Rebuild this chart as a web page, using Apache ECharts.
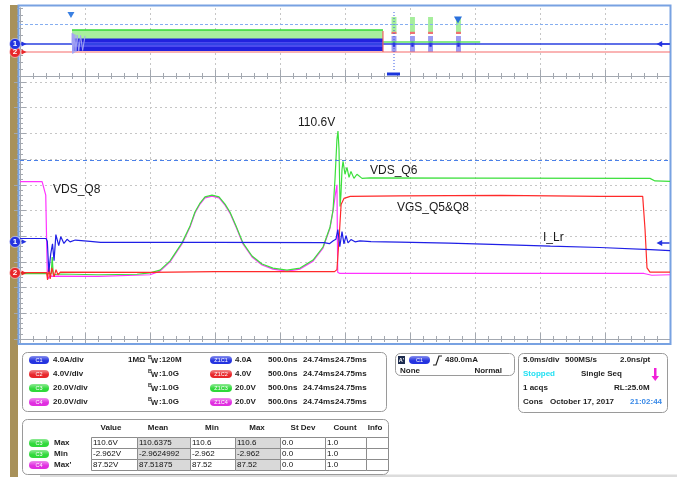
<!DOCTYPE html>
<html>
<head>
<meta charset="utf-8">
<script src="https://cdn.jsdelivr.net/npm/echarts@6/dist/echarts.min.js"></script>
<style>
  html, body { margin: 0; padding: 0; background: #fff; }
  #chart { width: 677px; height: 477px; }
</style>
</head>
<body>
<div id="chart"></div>
<script>
// zoom window: time in ns from the left edge (500 ns/div), level in divisions from the bottom
const iLr = [[0,3.91],[200,3.91],[210,3.8],[222,2.62],[236,3.3],[250,3.7],[262,3.05],[276,4.06],[298,3.63],[314,3.98],[338,3.72],[362,3.88],[385,3.78],[425,3.85],[540,3.8],[620,3.76],[1500,3.76],[2340,3.75],[2380,3.71],[2410,3.82],[2430,3.88],[2445,4.26],[2460,3.59],[2477,4.18],[2492,3.7],[2508,4.02],[2523,3.74],[2546,3.87],[2577,3.78],[2615,3.82],[2700,3.79],[2920,3.77],[3300,3.73],[3700,3.67],[4080,3.61],[4460,3.56],[4850,3.48],[5000,3.44]];
const vgsQ5Q8 = [[0,2.58],[205,2.58],[212,2.3],[222,2.85],[232,2.34],[246,2.77],[262,2.42],[277,2.7],[292,2.5],[310,2.6],[1000,2.59],[1500,2.62],[2420,2.62],[2438,2.7],[2454,3.87],[2470,5.23],[2492,5.47],[2540,5.55],[2920,5.57],[3700,5.59],[4460,5.55],[4790,5.55],[4808,4.26],[4823,2.77],[4846,2.6],[5000,2.6]];
const vdsQ6 = [[0,2.54],[205,2.54],[240,2.55],[248,3.19],[256,2.5],[300,2.53],[600,2.5],[900,2.52],[1000,2.57],[1077,2.68],[1154,3.04],[1246,3.74],[1308,4.4],[1346,4.94],[1385,5.29],[1423,5.53],[1477,5.6],[1531,5.53],[1577,5.25],[1615,4.94],[1662,4.4],[1715,3.74],[1785,3.23],[1862,2.92],[1946,2.76],[2054,2.68],[2154,2.76],[2254,3.07],[2331,3.58],[2385,4.36],[2408,5.02],[2423,6.21],[2438,7.77],[2446,8.09],[2454,7.38],[2462,5.16],[2469,5.63],[2477,6.6],[2485,6.91],[2500,6.41],[2515,6.68],[2531,6.29],[2546,6.52],[2569,6.25],[2592,6.41],[2631,6.25],[2692,6.27],[3500,6.26],[4846,6.25],[4885,6.15],[5000,6.13]];
const vdsQ8 = [[0,6.12],[170,6.12],[185,6.05],[198,5.6],[206,3.5],[210,2.5],[216,2.35],[230,2.45],[600,2.44],[1000,2.5],[1077,2.64],[1154,3.0],[1246,3.7],[1308,4.36],[1346,4.9],[1385,5.25],[1423,5.49],[1477,5.56],[1531,5.49],[1577,5.21],[1615,4.9],[1662,4.36],[1715,3.7],[1785,3.19],[1862,2.88],[1946,2.72],[2054,2.64],[2154,2.72],[2254,3.03],[2331,3.54],[2385,4.32],[2408,4.98],[2425,5.6],[2438,6.0],[2444,2.6],[2460,2.55],[4800,2.55],[4860,2.48],[5000,2.5]];
const mainCursor = 6.97;
const groundC1 = 3.78, groundC2 = 2.57;

// overview record: time in ms (5 ms/div), level in divisions
const ovBlue = [[0,4.71],[50,4.71]];
const ovRed = [[0,3.53],[50,3.53]];
const ovSwitch = [4.0, 27.92];
const ovGreenBand = [3.82, 6.76];
const ovBlueBand = [3.68, 5.51];
const ovBlueCore = [4.26, 5.0];
const ovStartRing = [[4.0,4.71],[4.02,6.3],[4.06,3.3],[4.1,6.2],[4.15,3.4],[4.22,6.1],[4.3,3.55],[4.4,6.0],[4.52,3.7],[4.66,5.95],[4.82,3.75],[5.0,5.9]];
const ovGreenTail = [[27.92,5.0],[35.4,5.0]];
const ovBursts = [28.77, 30.19, 31.58, 33.73];
const ovZoomPos = 28.77;
const ovZoomBox = [28.23, 29.23];
const ovTrigMarks = [[3.92, 8.97], [33.69, 8.24]];
const ovCursor = 7.65;

// readouts
const chanRows = [
  ['C1', '4.0A/div', '1MΩ', '120M', 'Z1C1', '4.0A'],
  ['C2', '4.0V/div', '', '1.0G', 'Z1C2', '4.0V'],
  ['C3', '20.0V/div', '', '1.0G', 'Z1C3', '20.0V'],
  ['C4', '20.0V/div', '', '1.0G', 'Z1C4', '20.0V']
];
const zoomScale = '500.0ns';
const zoomPos = ['24.74ms', '24.75ms'];
const trig = ['C1', '480.0mA', 'None', 'Normal'];
const acq = ['5.0ms/div', '500MS/s', '2.0ns/pt', 'Stopped', 'Single Seq', '1 acqs', 'RL:25.0M', 'Cons', 'October 17, 2017', '21:02:44'];
const measCols = ['Value', 'Mean', 'Min', 'Max', 'St Dev', 'Count', 'Info'];
const measRows = [
  ['C3', 'Max', '110.6V', '110.6375', '110.6', '110.6', '0.0', '1.0', ''],
  ['C3', 'Min', '-2.962V', '-2.9624992', '-2.962', '-2.962', '0.0', '1.0', ''],
  ['C4', "Max'", '87.52V', '87.51875', '87.52', '87.52', '0.0', '1.0', '']
];

const COL = { C1: '#2433e0', C2: '#e8262a', C3: '#2fd93a', C4: '#e02ee0' };
const TRACE = { C1: '#1f1fe6', C2: '#ff2a2a', C3: '#3ce03c', C4: '#ff33ff' };
const FONT = 'Liberation Sans, Arial, sans-serif';

const chart = echarts.init(document.getElementById('chart'));

function xAx(grid, pos, max, interval, split) {
  return {
    type: 'value', gridIndex: grid, position: pos, min: 0, max: max, interval: interval,
    axisLine: { show: true, lineStyle: { color: '#a3a8b0' } },
    axisTick: { show: true, inside: true, length: 6, lineStyle: { color: '#a3a8b0' } },
    minorTick: { show: true, splitNumber: 5, length: 3, lineStyle: { color: '#a3a8b0' } },
    axisLabel: { show: false },
    splitLine: { show: split, lineStyle: { color: '#c6c6c6', type: [2, 3] } }
  };
}
function yAx(grid, pos, minor, split) {
  return {
    type: 'value', gridIndex: grid, position: pos, min: 0, max: 10, interval: 1,
    axisLine: { show: true, lineStyle: { color: '#a3a8b0' } },
    axisTick: { show: true, inside: true, length: minor ? 6 : 3, lineStyle: { color: '#a3a8b0' } },
    minorTick: { show: minor, splitNumber: 5, length: 3, lineStyle: { color: '#a3a8b0' } },
    axisLabel: { show: false },
    splitLine: { show: split, lineStyle: { color: '#c6c6c6', type: [2, 3] } }
  };
}

function trace(name, data, color, xi, yi, extra) {
  return Object.assign({
    name: name, type: 'line', data: data, xAxisIndex: xi, yAxisIndex: yi,
    symbol: 'none', silent: true, animation: false,
    lineStyle: { color: color, width: 1.2 }
  }, extra || {});
}

// channel ground marker (circle with number + little arrow)
function chanMark(coord, num, color) {
  return {
    symbolSize: 0,
    data: [
      { coord: coord, symbol: 'triangle', symbolSize: [5, 5], symbolRotate: -90, symbolOffset: [4, 0],
        itemStyle: { color: color }, label: { show: false } },
      { coord: coord, symbol: 'circle', symbolSize: 11, symbolOffset: [-5, 0],
        itemStyle: { color: color, borderColor: '#ffffff', borderWidth: 0.5 },
        label: { show: true, position: 'inside', formatter: num, color: '#fff', fontSize: 8, fontWeight: 'bold', fontFamily: FONT } }
    ]
  };
}
const leftArrow = 'path://M0,4 L7,0 L7,3 L16,3 L16,5 L7,5 L7,8 Z';

function rectArea(x0, y0, x1, y1, color) {
  return [{ coord: [x0, y0], itemStyle: { color: color } }, { coord: [x1, y1] }];
}

const burstAreas = [];
ovBursts.forEach(c => {
  burstAreas.push(rectArea(c - 0.19, 6.18, c + 0.19, 8.68, '#a6ee9c'));
  burstAreas.push(rectArea(c - 0.19, 6.18, c + 0.19, 6.5, '#f07070'));
  burstAreas.push(rectArea(c - 0.19, 3.53, c + 0.19, 5.88, '#9b9bf2'));
  burstAreas.push(rectArea(c - 0.09, 4.3, c + 0.09, 5.1, '#2a2ae0'));
});

const series = [
  // overview
  { type: 'line', xAxisIndex: 0, yAxisIndex: 0, data: [], silent: true, animation: false,
    markLine: { silent: true, symbol: 'none', label: { show: false },
      lineStyle: { color: '#86aef0', type: [3, 2], width: 1 }, data: [{ yAxis: ovCursor }] },
    markArea: { silent: true, data: [rectArea(ovSwitch[0], ovGreenBand[0], ovSwitch[1], ovGreenBand[1], '#a8ef9e')] } },
  trace('ovRed', ovRed, '#f56a6a', 0, 0),
  trace('ovBlue', ovBlue, TRACE.C1, 0, 0, { lineStyle: { color: '#2a40e0', width: 1.5 } }),
  trace('ovGreenTop', [[ovSwitch[0], ovGreenBand[1]], [ovSwitch[1], ovGreenBand[1]]], '#35d935', 0, 0, { lineStyle: { color: '#35d935', width: 1.5 } }),
  { type: 'line', xAxisIndex: 0, yAxisIndex: 0, data: [], silent: true, animation: false,
    markArea: { silent: true, data: [
      rectArea(ovSwitch[0], ovBlueBand[0], ovSwitch[1], ovBlueBand[1], '#2222de'),
      rectArea(ovSwitch[0], ovBlueCore[0], ovSwitch[1], ovBlueCore[1], '#4b4bee')
    ] } },
  trace('ovRing', ovStartRing, '#a4a4f4', 0, 0, { lineStyle: { color: '#a4a4f4', width: 1 } }),
  trace('ovGreenTail', ovGreenTail, '#5ee35e', 0, 0, { lineStyle: { color: '#5ee35e', width: 1.5 } }),
  trace('ovRedEdge', [[ovSwitch[1], 3.53], [ovSwitch[1], 6.6]], '#f06060', 0, 0),
  { type: 'line', xAxisIndex: 0, yAxisIndex: 0, data: [], silent: true, animation: false,
    markArea: { silent: true, data: burstAreas } },
  trace('ovZoomLine', [[ovZoomPos, 0.88], [ovZoomPos, 9.41]], '#3050e0', 0, 0, { lineStyle: { color: '#3a5ae6', width: 1, type: [1, 2] } }),
  trace('ovZoomBox', [[ovZoomBox[0], 0.29], [ovZoomBox[1], 0.29]], '#1a35dc', 0, 0, { lineStyle: { color: '#1a35dc', width: 3 } }),
  trace('ovMarks', [[0, 4.71], [50, 4.71]], 'transparent', 0, 0, {
    lineStyle: { width: 0 },
    markPoint: { silent: true, label: { show: false }, data: [
      { coord: ovTrigMarks[0], symbol: 'triangle', symbolRotate: 180, symbolSize: [7, 6], itemStyle: { color: '#3a80e2' } },
      { coord: ovTrigMarks[1], symbol: 'triangle', symbolRotate: 180, symbolSize: [8, 7], itemStyle: { color: '#2a70dc' } },
      { coord: [50, 4.71], symbol: leftArrow, symbolSize: [13, 6], symbolOffset: [-7, 0], itemStyle: { color: '#2433e0' } }
    ] }
  }),
  trace('ovM2', [[0, 3.53]], 'transparent', 0, 0, { markPoint: chanMark([0, 3.53], '2', COL.C2) }),
  trace('ovM1', [[0, 4.71]], 'transparent', 0, 0, { markPoint: chanMark([0, 4.71], '1', COL.C1) }),

  // zoom window
  { type: 'line', xAxisIndex: 2, yAxisIndex: 2, data: [], silent: true, animation: false,
    markLine: { silent: true, symbol: 'none', label: { show: false },
      lineStyle: { color: '#4a80e8', type: [4, 3], width: 1 }, data: [{ yAxis: mainCursor }] } },
  trace('VDS_Q8', vdsQ8, TRACE.C4, 2, 2),
  trace('VDS_Q6', vdsQ6, TRACE.C3, 2, 2),
  trace('VGS_Q5&Q8', vgsQ5Q8, TRACE.C2, 2, 2),
  trace('I_Lr', iLr, TRACE.C1, 2, 2, {
    markPoint: { silent: true, label: { show: false }, data: [
      { coord: [5000, iLr[iLr.length - 1][1] + 0.3], symbol: leftArrow, symbolSize: [13, 6], symbolOffset: [-7, 0], itemStyle: { color: '#2433e0' } }
    ] }
  }),
  trace('m2', [[0, groundC2]], 'transparent', 2, 2, { markPoint: chanMark([0, groundC2], '2', COL.C2) }),
  trace('m1', [[0, groundC1]], 'transparent', 2, 2, { markPoint: chanMark([0, groundC1], '1', COL.C1) })
];

// ---------- graphic: frame, labels and readout panels ----------
const g = [];
function txt(x, y, s, o) {
  o = o || {};
  g.push({ type: 'text', x: x, y: y, silent: true, z: 20,
    style: { text: s, fill: o.color || '#1e1e1e', fontSize: o.size || 8, fontWeight: o.weight || 'bold',
      fontFamily: o.family || FONT, align: o.align || 'left', textAlign: o.align || 'left',
      verticalAlign: 'middle', textVerticalAlign: 'middle' } });
}
function lighten(hex) {
  const n = parseInt(hex.slice(1), 16);
  const r = (n >> 16) & 255, gg = (n >> 8) & 255, b = n & 255;
  const f = v => Math.round(v + (255 - v) * 0.45);
  return 'rgb(' + f(r) + ',' + f(gg) + ',' + f(b) + ')';
}
function badge(x, y, w, label, color) {
  g.push({ type: 'rect', silent: true, z: 20, shape: { x: x, y: y - 4, width: w, height: 8, r: 4 },
    style: { fill: new echarts.graphic.LinearGradient(0, 0, 0, 1, [
      { offset: 0, color: lighten(color) }, { offset: 0.6, color: color }, { offset: 1, color: color }]) } });
  g.push({ type: 'text', x: x + w / 2, y: y, silent: true, z: 21,
    style: { text: label, fill: '#fff', fontSize: 5.5, fontFamily: FONT, align: 'center', textAlign: 'center',
      verticalAlign: 'middle', textVerticalAlign: 'middle' } });
}
function panel(x, y, w, h) {
  g.push({ type: 'rect', silent: true, z: 15, shape: { x: x + 0.5, y: y + 0.5, width: w, height: h, r: 5 },
    style: { fill: '#fff', stroke: '#9a9a9a', lineWidth: 1 } });
}

// frame
g.push({ type: 'rect', silent: true, z: 0, shape: { x: 10, y: 5, width: 8, height: 472 }, style: { fill: '#a8915a' } });
g.push({ type: 'rect', silent: true, z: 1, shape: { x: 18.5, y: 5.5, width: 652, height: 338.5 },
  style: { fill: 'none', stroke: '#78a2e2', lineWidth: 2 } });
g.push({ type: 'rect', silent: true, z: 0, shape: { x: 40, y: 474.5, width: 637, height: 2.5 }, style: { fill: '#dcdcdc' } });

// trace labels
const LBL = { family: 'Liberation Sans, Arial, sans-serif', size: 12, weight: 'normal', color: '#1a1a1a' };
txt(298, 123, '110.6V', LBL);
txt(53, 190, 'VDS_Q8', LBL);
txt(370, 171, 'VDS_Q6', LBL);
txt(397, 208, 'VGS_Q5&Q8', LBL);
txt(543, 238, 'I_Lr', LBL);

// channel panel
panel(22, 352, 364, 59);
chanRows.forEach((r, i) => {
  const y = 360 + i * 14;
  badge(29, y, 20, r[0], COL[r[0]]);
  txt(53, y, r[1]);
  if (r[2]) txt(128, y, r[2]);
  txt(148, y - 3, 'B', { size: 5.5 });
  txt(151, y + 1, 'W', { size: 7.5 });
  txt(159, y, ':' + r[3]);
  badge(210, y, 22, r[4], COL[r[0]]);
  txt(235, y, r[5]);
  txt(268, y, zoomScale);
  txt(303, y, zoomPos[0]);
  txt(335, y, zoomPos[1]);
});

// trigger panel
panel(395, 353, 119, 22);
g.push({ type: 'rect', silent: true, z: 20, shape: { x: 398, y: 356, width: 7, height: 8 }, style: { fill: '#1c2b4e' } });
txt(401.5, 360, "A'", { size: 5.5, color: '#fff', align: 'center' });
badge(409, 360, 21, trig[0], COL.C1);
g.push({ type: 'polyline', silent: true, z: 20, shape: { points: [[433, 365], [436, 365], [439, 356], [442, 356]] },
  style: { stroke: '#222', lineWidth: 1.2, fill: null } });
txt(445, 360, trig[1]);
txt(400, 371, trig[2]);
txt(502, 371, trig[3], { align: 'right' });

// acquisition panel
panel(518, 353, 149, 59);
txt(523, 360, acq[0]);
txt(565, 360, acq[1]);
txt(620, 360, acq[2]);
txt(523, 374, acq[3], { color: '#22e0f2' });
txt(581, 374, acq[4]);
g.push({ type: 'rect', silent: true, z: 20, shape: { x: 654, y: 368, width: 2.5, height: 9 }, style: { fill: '#f020d8' } });
g.push({ type: 'polygon', silent: true, z: 20, shape: { points: [[651.5, 376], [659, 376], [655.25, 381]] }, style: { fill: '#f020d8' } });
txt(523, 388, acq[5]);
txt(614, 388, acq[6]);
txt(523, 402, acq[7]);
txt(550, 402, acq[8]);
txt(630, 402, acq[9], { color: '#3a8ae8' });

// measurement panel
panel(22, 419, 366, 55);
const colX = [91, 137, 190, 235, 280, 325, 366, 388];
const headX = [111, 158, 212, 257, 303, 345, 375];
const rowY = [437, 448, 459, 470];
measCols.forEach((c, i) => txt(headX[i], 428, c, { align: 'center' }));
for (let r = 0; r < measRows.length; r++) {
  for (let c = 0; c < 7; c++) {
    g.push({ type: 'rect', silent: true, z: 18,
      shape: { x: colX[c] + 0.5, y: rowY[r] + 0.5, width: colX[c + 1] - colX[c], height: rowY[r + 1] - rowY[r] },
      style: { fill: (c === 1 || c === 3) ? '#d9d9d9' : '#fff', stroke: '#8c8c8c', lineWidth: 1 } });
  }
}
measRows.forEach((row, r) => {
  const y = (rowY[r] + rowY[r + 1]) / 2 + 0.5;
  badge(29, y, 20, row[0], COL[row[0]]);
  txt(54, y, row[1]);
  for (let c = 0; c < 7; c++) {
    if (row[c + 2]) txt(colX[c] + 2, y, row[c + 2], { weight: 'normal', color: '#111' });
  }
});

chart.setOption({
  animation: false,
  backgroundColor: '#ffffff',
  grid: [
    { left: 20, top: 8, width: 650, height: 68 },
    { left: 20, top: 82, width: 650, height: 257 }
  ],
  xAxis: [
    xAx(0, 'bottom', 50, 5, true),
    xAx(0, 'top', 50, 5, false),
    xAx(1, 'bottom', 5000, 500, true),
    xAx(1, 'top', 5000, 500, false)
  ],
  yAxis: [
    yAx(0, 'left', false, false),
    yAx(0, 'right', false, false),
    yAx(1, 'left', true, true),
    yAx(1, 'right', true, false)
  ],
  series: series,
  graphic: { elements: g }
});
</script>
</body>
</html>
